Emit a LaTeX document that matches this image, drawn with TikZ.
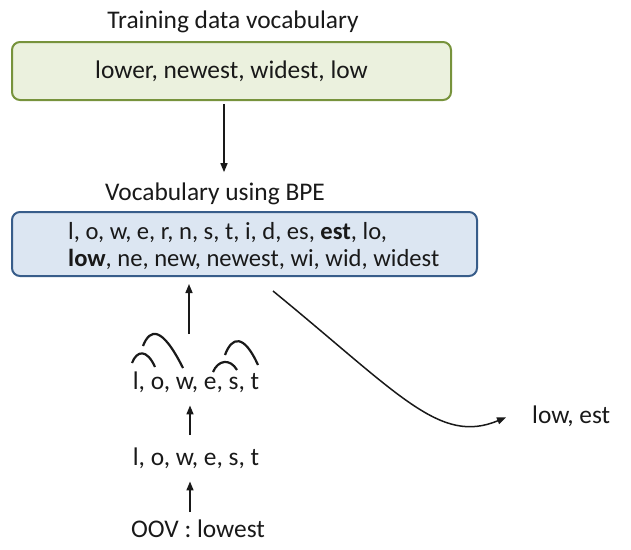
\documentclass[tikz,border=0pt]{standalone}
\usepackage{fontspec}
\setmainfont{Carlito}
\usetikzlibrary{positioning, arrows.meta}
\definecolor{vocGreen}{RGB}{119,147,60}
\definecolor{vocGreenFill}{RGB}{235,241,222}
\definecolor{bpeBlue}{RGB}{56,93,138}
\definecolor{bpeBlueFill}{RGB}{220,230,242}
\definecolor{inkGray}{RGB}{25,25,25}

\begin{document}
\begin{tikzpicture}[
    x=1pt, y=-1pt,
    font=\fontsize{25.4}{27}\selectfont, text=inkGray,
    box/.style={draw, line width=2pt, rounded corners=8pt, inner sep=0pt},
    lbl/.style={anchor=base, inner sep=0pt},
    arr/.style={-{Triangle[length=9pt, width=7pt]}, line width=1.5pt, inkGray},
    merge/.style={line width=2.2pt, inkGray},
  ]
    \useasboundingbox (0,0) rectangle (631,549);
    % training vocabulary
    \node[lbl] (traintitle) at (233,28) {Training data vocabulary};
    \node[box, draw=vocGreen, fill=vocGreenFill, minimum width=439pt, minimum height=58pt] (train) at (231.5,71) {lower, newest, widest, low};
    % BPE vocabulary
    \node[lbl] (bpetitle) at (215,200) {Vocabulary using BPE};
    \node[box, draw=bpeBlue, fill=bpeBlueFill, minimum width=465pt, minimum height=64pt] (bpe) at (244.5,244) {};
    \node[anchor=west, align=left, inner sep=0pt, font=\fontsize{24.6}{26.5}\selectfont] (bpetokens) at (68,246)
      {l, o, w, e, r, n, s, t, i, d, es, \textbf{est}, lo,\\ \textbf{low}, ne, new, newest, wi, wid, widest};
    % OOV word
    \node[lbl] (pairs) at (196,389) {l, o, w, e, s, t};
    \node[lbl] (chars) at (196,465) {l, o, w, e, s, t};
    \node[lbl] (oov) at (198,537) {OOV : lowest};
    \node[lbl, anchor=base west] (result) at (532,423) {low, est};
    % merges
    \draw[merge] (132,363) .. controls (137,350) and (147,349) .. (155,367);
    \draw[merge] (143,346) .. controls (150,328) and (162,326) .. (183,368);
    \draw[merge] (213,372) .. controls (218,360) and (230,358) .. (237,370);
    \draw[merge] (225,355) .. controls (232,336) and (244,334) .. (258,365);
    % arrows
    \draw[arr] ([shift={(-7.5,3)}]train.south) -- ([shift={(9,-10)}]bpetitle.north);
    \draw[arr] ([shift={(-55.5,57)}]bpe.south) -- ([shift={(-55.5,7)}]bpe.south);
    \draw[arr] ([shift={(-6,-12)}]chars.north) -- ([shift={(-6,13)}]pairs.south);
    \draw[arr] ([shift={(-8,-7)}]oov.north) -- ([shift={(-6,13)}]chars.south);
    \draw[arr] ([shift={(28.5,14)}]bpe.south) .. controls (400,395) and (440,445) .. ([shift={(-26,1.5)}]result.west);
\end{tikzpicture}
\end{document}
